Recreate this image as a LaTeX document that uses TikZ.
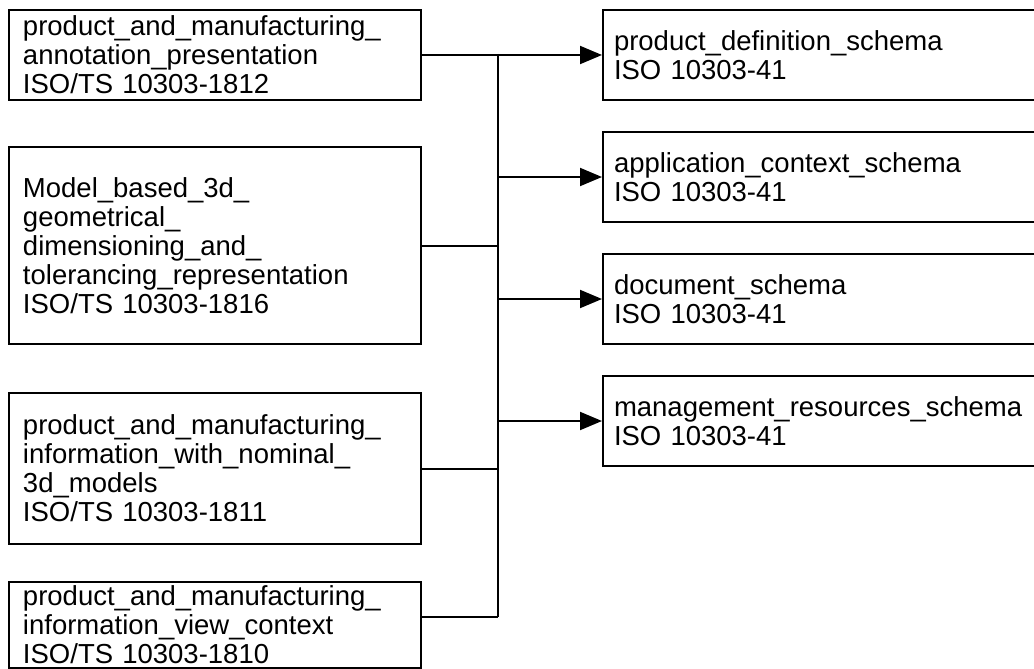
\documentclass[tikz,border=0pt]{standalone}
\usepackage{fontspec}
\setmainfont{Liberation Sans}
\usetikzlibrary{arrows.meta}

\tikzset{
  module/.style={draw, line width=2pt, anchor=north west, align=left,
    inner xsep=14pt, inner ysep=0pt, text width=384pt,
    font=\fontsize{27.5}{29}\selectfont},
  resource/.style={module, inner xsep=11pt, text width=416pt},
  link/.style={line width=2pt},
  uses/.style={link, -{Triangle[length=22pt,width=18pt]}},
}

\begin{document}
\begin{tikzpicture}[x=1pt,y=-1pt]
  \useasboundingbox (0,0) rectangle (1034,669);

  % application modules
  \node[module, minimum height=90pt]  (L1) at (8,9)
    {product\_and\_manufacturing\_\\annotation\_presentation\\ISO/TS 10303-1812};
  \node[module, minimum height=197pt] (L2) at (8,146)
    {Model\_based\_3d\_\\geometrical\_\\dimensioning\_and\_\\tolerancing\_representation\\ISO/TS 10303-1816};
  \node[module, minimum height=151pt] (L3) at (8,392)
    {product\_and\_manufacturing\_\\information\_with\_nominal\_\\3d\_models\\ISO/TS 10303-1811};
  \node[module, minimum height=86pt]  (L4) at (8,581)
    {product\_and\_manufacturing\_\\information\_view\_context\\ISO/TS 10303-1810};

  % integrated resources
  \node[resource, minimum height=90pt] (R1) at (602,9)
    {product\_definition\_schema\\ISO 10303-41};
  \node[resource, minimum height=90pt] (R2) at (602,131)
    {application\_context\_schema\\ISO 10303-41};
  \node[resource, minimum height=90pt] (R3) at (602,253)
    {document\_schema\\ISO 10303-41};
  \node[resource, minimum height=90pt] (R4) at (602,375)
    {management\_resources\_schema\\ISO 10303-41};

  % bus
  \coordinate (jt) at (498,54);
  \coordinate (jb) at (498,617);
  \draw[link] (jt) -- (jb);

  \draw[uses] (L1.east) -- (L1.east -| R1.west);
  \draw[link] (L2.east) -- (L2.east -| jt);
  \draw[link] (L3.east) -- (L3.east -| jt);
  \draw[link] (L4.east |- jb) -- (jb);

  \foreach \r in {R2,R3,R4}
    \draw[uses] (\r.west -| jt) -- (\r.west);
\end{tikzpicture}
\end{document}
